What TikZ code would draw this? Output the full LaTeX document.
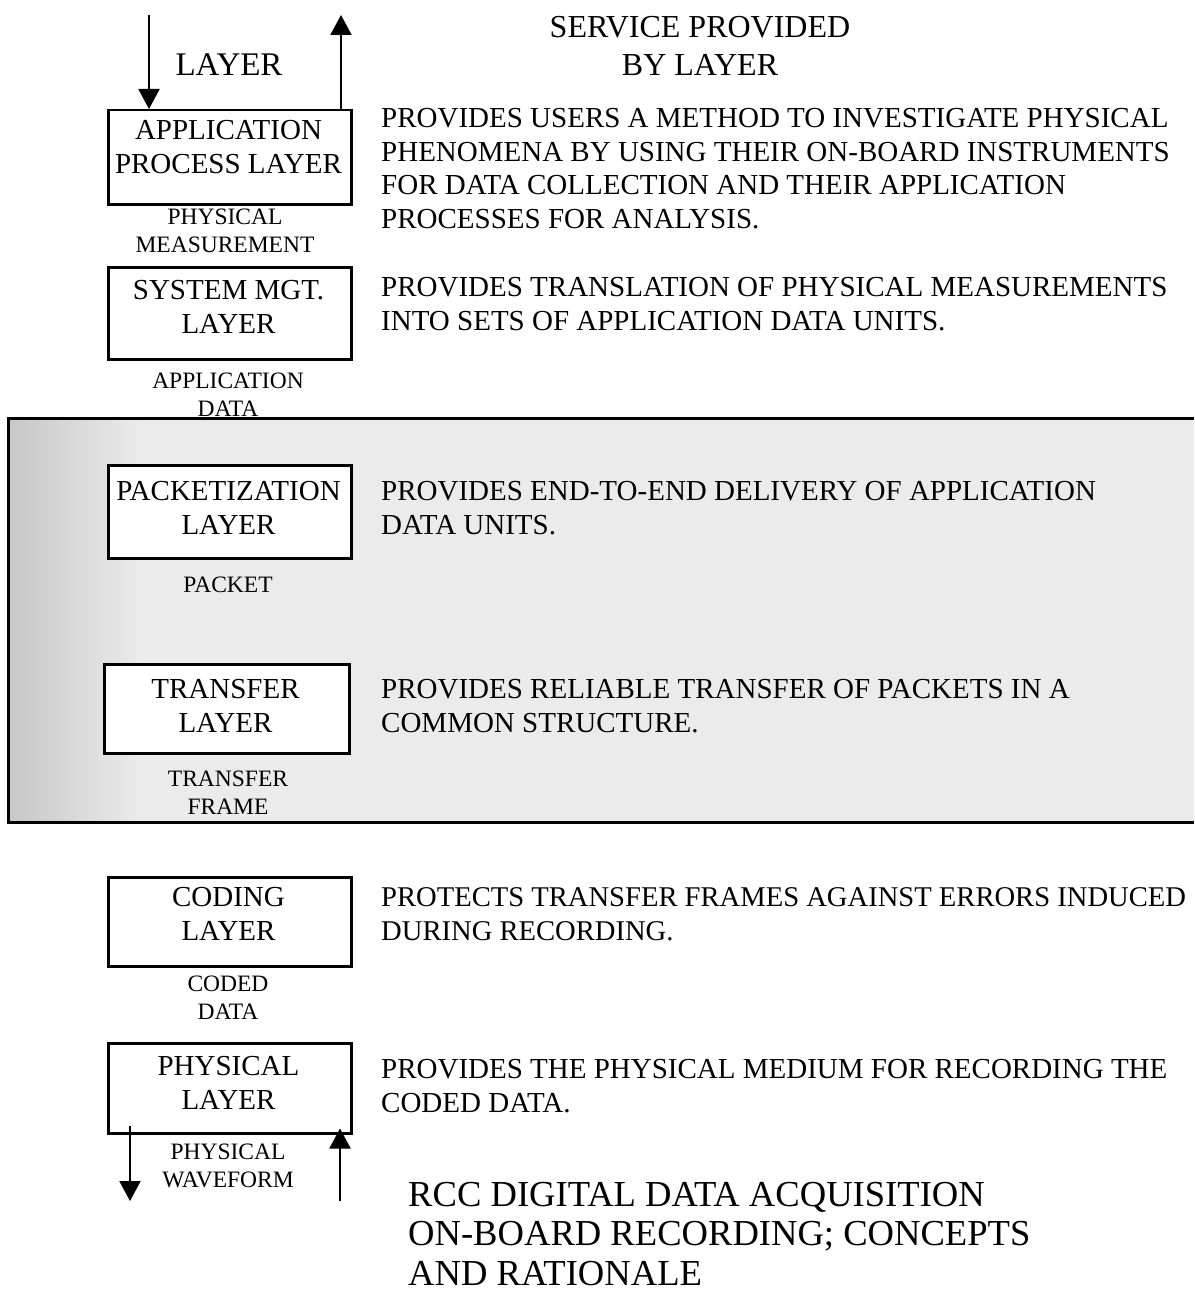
\documentclass[tikz,border=0pt]{standalone}
\usepackage{fontspec}
\setmainfont{Liberation Serif}
\usetikzlibrary{arrows.meta,calc}
\newcommand\fBody{\fontsize{29}{33.5}\selectfont}
\newcommand\fBodyN{\fontsize{28.6}{33.5}\selectfont}
\newcommand\fSmall{\fontsize{23.5}{27.5}\selectfont}
\newcommand\fHead{\fontsize{32}{38}\selectfont}
\newcommand\fLayer{\fontsize{33}{38}\selectfont}
\newcommand\fTitle{\fontsize{36.6}{39.5}\selectfont}
\begin{document}
\begin{tikzpicture}[x=1pt,y=-1pt,
  layerbox/.style={draw, line width=2.5pt, fill=white, anchor=north west, inner sep=0pt},
  boxtext/.style={font=\fBody, align=center, anchor=north, inner sep=0pt},
  datalabel/.style={font=\fSmall, align=center, anchor=north, inner sep=0pt},
  desc/.style={font=\fBody, align=left, anchor=north west, inner sep=0pt},
  flow/.style={line width=2pt, -{Triangle[width=21pt,length=20pt]}}]
\useasboundingbox (0,0) rectangle (1194,1295);
\fill[white] (0,0) rectangle (1194,1295);
% shaded region
\fill[black!8] (8,418) rectangle (1194,822);
\shade[left color=black!22, right color=black!8] (8,418) rectangle (140,822);
\draw[line width=3pt] (1194,418) -- (8,418) -- (8,822) -- (1194,822);
% headings
\node[font=\fLayer, inner sep=0pt] (hlayer) at (229,65) {LAYER};
\node[font=\fHead, align=center, anchor=north, inner sep=0pt] (hservice) at (700,16.4) {SERVICE PROVIDED\\BY LAYER};
% boxes
\node[layerbox, minimum width=243pt, minimum height=94pt] (app) at (107,109) {};
\node[layerbox, minimum width=243pt, minimum height=92pt] (sys) at (107,266) {};
\node[layerbox, minimum width=243pt, minimum height=93pt] (pkt) at (107,464) {};
\node[layerbox, minimum width=245pt, minimum height=89pt] (xfr) at (103,663) {};
\node[layerbox, minimum width=243pt, minimum height=89pt] (cod) at (107,876) {};
\node[layerbox, minimum width=243pt, minimum height=90pt] (phy) at (107,1042) {};
% box texts
\node[boxtext] (tapp) at (228.5,120.4) {APPLICATION\\PROCESS LAYER};
\node[boxtext] (tsys) at (228.5,280.4) {SYSTEM MGT.\\LAYER};
\node[boxtext] (tpkt) at (228.5,481.4) {PACKETIZATION\\LAYER};
\node[boxtext] (txfr) at (225.5,679.4) {TRANSFER\\LAYER};
\node[boxtext] (tcod) at (228.5,887.4) {CODING\\LAYER};
\node[boxtext] (tphy) at (228.5,1056.4) {PHYSICAL\\LAYER};
% data unit labels
\node[datalabel] (lmeas) at (225,209.2) {PHYSICAL\\MEASUREMENT};
\node[datalabel] (lappd) at (228,373.2) {APPLICATION\\DATA};
\node[datalabel] (lpack) at (228,577.2) {PACKET};
\node[datalabel] (lfram) at (228,771.2) {TRANSFER\\FRAME};
\node[datalabel] (lcode) at (228,976.2) {CODED\\DATA};
\node[datalabel] (lwave) at (228,1144.2) {PHYSICAL\\WAVEFORM};
% descriptions
\node[desc] (dapp) at (381,108.4) {PROVIDES USERS A METHOD TO INVESTIGATE PHYSICAL\\PHENOMENA BY USING THEIR ON-BOARD INSTRUMENTS\\FOR DATA COLLECTION AND THEIR APPLICATION\\PROCESSES FOR ANALYSIS.};
\node[desc] (dsys) at (381,277.4) {PROVIDES TRANSLATION OF PHYSICAL MEASUREMENTS\\INTO SETS OF APPLICATION DATA UNITS.};
\node[desc] (dpkt) at (381,481.4) {PROVIDES END-TO-END DELIVERY OF APPLICATION\\DATA UNITS.};
\node[desc] (dxfr) at (381,679.4) {PROVIDES RELIABLE TRANSFER OF PACKETS IN A\\COMMON STRUCTURE.};
\node[desc, font=\fBodyN] (dcod) at (381,887.4) {PROTECTS TRANSFER FRAMES AGAINST ERRORS INDUCED\\DURING RECORDING.};
\node[desc] (dphy) at (381,1059.4) {PROVIDES THE PHYSICAL MEDIUM FOR RECORDING THE\\CODED DATA.};
% title
\node[font=\fTitle, align=left, anchor=north west, inner sep=0pt] (title) at (408,1182) {RCC DIGITAL DATA ACQUISITION\\ON-BOARD RECORDING; CONCEPTS\\AND RATIONALE};
% arrows
\coordinate (topin) at (149,15);
\coordinate (topout) at (341,15);
\coordinate (botout) at (130,1201);
\coordinate (botin) at (340,1201);
\draw[flow] (topin) -- (topin |- app.north);
\draw[flow] (topout |- app.north) -- (topout);
\draw[flow] ($(botout |- phy.south)+(0,-9)$) -- (botout);
\draw[flow] (botin) -- ($(botin |- phy.south)+(0,-6)$);
\end{tikzpicture}
\end{document}
